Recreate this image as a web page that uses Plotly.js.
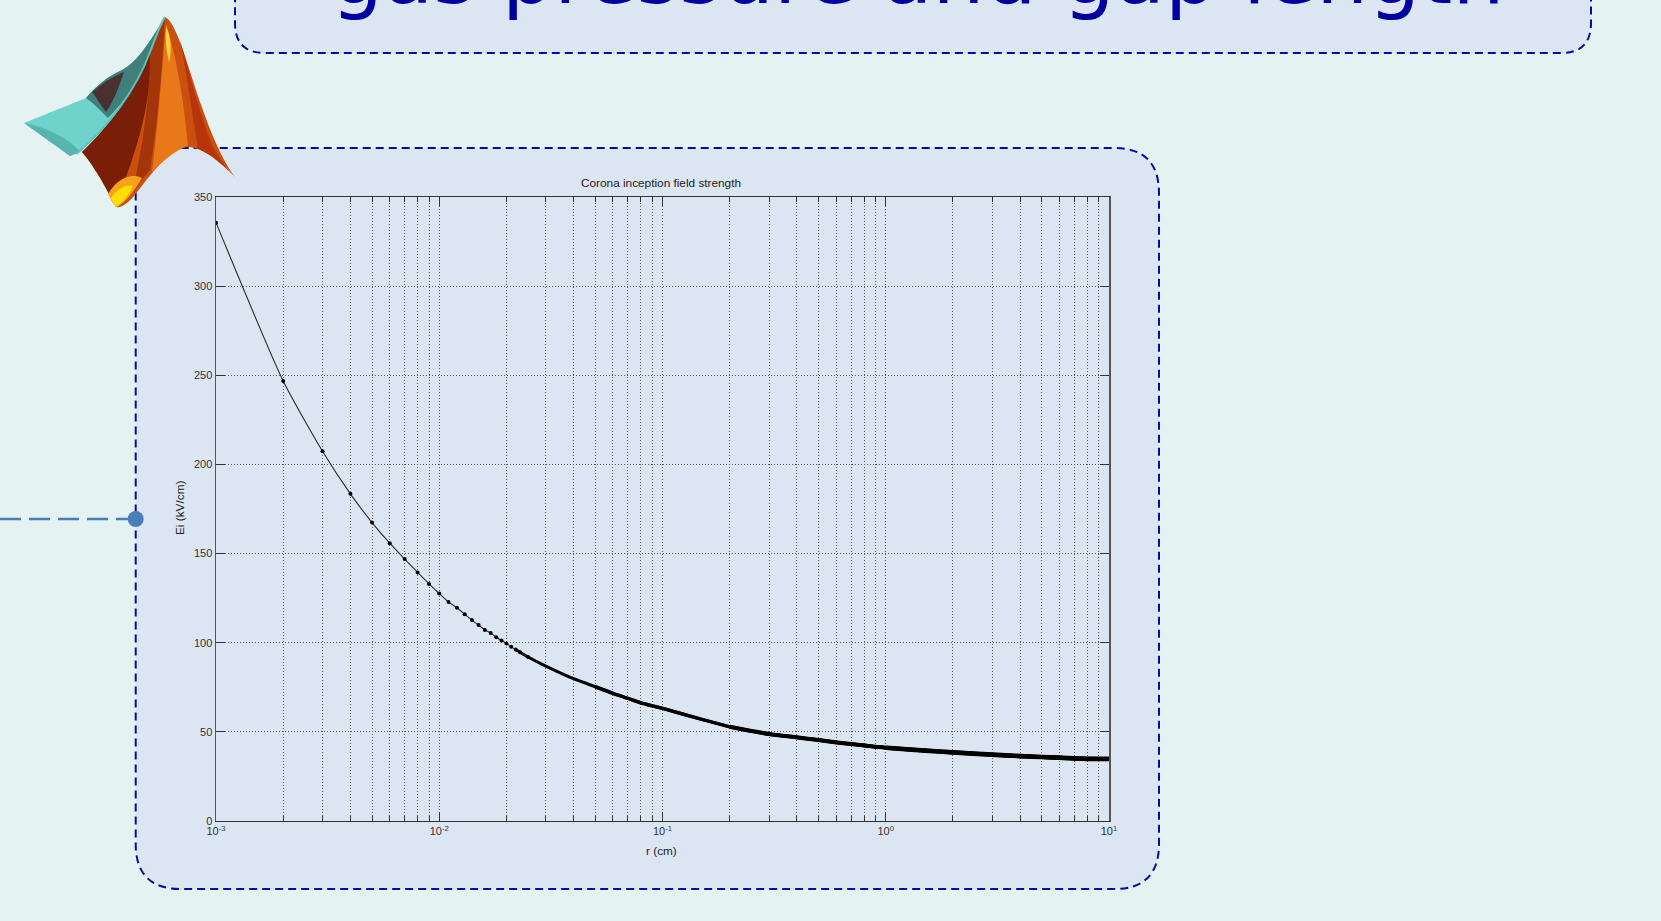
<!DOCTYPE html>
<html><head><meta charset="utf-8">
<script src="https://cdn.plot.ly/plotly-3.0.1.min.js"></script>
<style>html,body{margin:0;padding:0;background:#e4f2f2;overflow:hidden}</style>
</head><body><div id="chart" style="width:1661px;height:921px"></div>
<script>
// ---------------- data ----------------
const radiusCm = [0.001,0.002,0.003,0.004,0.005,0.006,0.007,0.008,0.009,0.010,
  0.011,0.012,0.013,0.014,0.015,0.016,0.017,0.018,0.019,0.020,0.021,0.022,0.023,0.025,
  0.03,0.04,0.05,0.06,0.07,0.08,0.09,0.1,0.15,0.2,0.3,0.4,0.5,0.6,0.7,0.8,0.9,
  1,1.5,2,3,4,5,6,7,8,9,10];
const fieldKVcm = [335.6,246.8,207.4,183.5,167.4,155.8,146.9,139.4,133.0,127.6,
  122.9,119.6,116.0,112.7,109.9,107.2,105.4,103.1,101.3,99.6,97.7,96.2,94.7,92.0,
  86.9,79.8,75.3,71.6,68.8,66.3,64.6,63.2,57.0,52.9,48.8,46.9,45.4,44.1,43.2,42.4,41.6,
  41.1,39.5,38.5,37.2,36.4,35.9,35.5,35.1,34.9,34.8,34.8];
const xTickVals = [0.001,0.01,0.1,1,10];
const xTickText = ['10<sup>-3</sup>','10<sup>-2</sup>','10<sup>-1</sup>','10<sup>0</sup>','10<sup>1</sup>'];
const yTickVals = [0,50,100,150,200,250,300,350];
const chartTitle = 'Corona inception field strength';
const xTitle = 'r (cm)';
const yTitle = 'Ei (kV/cm)';
const slideHeading = 'gas pressure and gap length';

// ---------------- helpers ----------------
const W = 1661, H = 921;
const px = x => x / W, py = y => 1 - y / H;
function P(segs){
  return segs.map(s => {
    const c = s[0]; const n = s.slice(1);
    return c + n.map((v,i) => (i % 2 === 0 ? px(v) : py(v)).toFixed(5)).join(',');
  }).join(' ');
}
function rrect(x0,y0,x1,y1,r){
  return P([['M',x0+r,y0],['L',x1-r,y0],['Q',x1,y0,x1,y0+r],['L',x1,y1-r],['Q',x1,y1,x1-r,y1],
    ['L',x0+r,y1],['Q',x0,y1,x0,y1-r],['L',x0,y0+r],['Q',x0,y0,x0+r,y0],['Z']]);
}
const minorVals = [];
xTickVals.slice(0,-1).forEach(d => { for (let k=2;k<=9;k++) minorVals.push(+(k*d).toPrecision(3)); });

// the curve: dots where they are resolved, then an increasingly thick line where dots pile up
const iDotEnd = radiusCm.findIndex(r => r >= 0.025);
const thickSteps = [[0.022, 3.0], [0.05, 3.5], [0.2, 4.1], [1, 4.7]];
const traces = thickSteps.map(([r0, w]) => {
  const i0 = radiusCm.findIndex(r => r >= r0);
  return {x: radiusCm.slice(i0), y: fieldKVcm.slice(i0), mode:'lines', type:'scatter',
    line:{color:'#000', width:w, shape:'spline', smoothing:0.6}, hoverinfo:'skip'};
});
traces.push({x: radiusCm.slice(0, iDotEnd+1), y: fieldKVcm.slice(0, iDotEnd+1), mode:'lines+markers', type:'scatter',
   line:{color:'#2a2a2a', width:1.1, shape:'spline', smoothing:0.6},
   marker:{color:'#000', size:4}});

const tickFont = {family:'Liberation Sans, Arial, sans-serif', size:11, color:'#333'};
const labelFont = {family:'Liberation Sans, Arial, sans-serif', size:11.8, color:'#222'};
const gridDash = '1px,2px';

const shapes = [
  // heading box (top, cut by page)
  {type:'path', xref:'paper', yref:'paper', layer:'below', path: rrect(235,-200,1591,53,30),
   fillcolor:'#dce6f2', line:{color:'#0a0aa0', width:2, dash:'8px,5px'}},
  // chart panel
  {type:'path', xref:'paper', yref:'paper', layer:'below', path: rrect(135.7,148,1159,889,45),
   fillcolor:'#dce6f2', line:{color:'#0a0aa0', width:2, dash:'8px,5px'}},
  // connector line and dot
  {type:'line', xref:'paper', yref:'paper', layer:'above', x0:px(0), x1:px(128), y0:py(519), y1:py(519),
   line:{color:'#4a7ebb', width:2.5, dash:'21px,8px'}},
  {type:'circle', xref:'paper', yref:'paper', layer:'above', x0:px(127.7), x1:px(143.7), y0:py(511), y1:py(527),
   fillcolor:'#4a7ebb', line:{width:0}},
  // ---- MATLAB-style logo (decoration) ----
  {type:'path', xref:'paper', yref:'paper', layer:'above', line:{width:0}, fillcolor:'#6fd2cb',
   path: P([['M',24,123],['L',86,98],['C',96,86,108,76,122,70],['C',138,62,152,38,165,17],
            ['L',150,55],['C',132,95,108,128,80,152],['L',70,156],['Z']])},
  {type:'path', xref:'paper', yref:'paper', layer:'above', line:{width:0}, fillcolor:'#57b5af',
   path: P([['M',24,123],['L',70,156],['L',80,152],['C',70,140,50,128,24,123],['Z']])},
  {type:'path', xref:'paper', yref:'paper', layer:'above', line:{width:0}, fillcolor:'#3f7f7c',
   path: P([['M',86,98],['C',96,86,108,76,122,70],['C',138,62,152,38,165,17],
            ['L',150,55],['C',138,82,124,102,108,118],['C',100,110,93,103,86,98],['Z']])},
  {type:'path', xref:'paper', yref:'paper', layer:'above', line:{width:0}, fillcolor:'#4a3030',
   path: P([['M',92,92],['C',104,82,114,76,124,72],['C',118,90,112,104,106,112],['C',100,104,96,97,92,92],['Z']])},
  {type:'path', xref:'paper', yref:'paper', layer:'above', line:{width:0}, fillcolor:'#c9500e',
   path: P([['M',165,17],['C',176,22,186,60,200,102],['C',212,136,222,160,235,177],
            ['C',226,166,210,150,190,147],['C',170,146,150,176,134,196],['C',127,204,121,208,116,207],
            ['C',108,192,96,168,82,152],['C',108,128,136,90,150,52],['C',155,37,160,23,165,17],['Z']])},
  {type:'path', xref:'paper', yref:'paper', layer:'above', line:{width:0}, fillcolor:'#7a1e08',
   path: P([['M',82,152],['C',108,128,136,90,150,52],['C',152,80,146,120,132,160],
            ['C',126,178,120,192,116,207],['C',108,192,96,168,82,152],['Z']])},
  {type:'path', xref:'paper', yref:'paper', layer:'above', line:{width:0}, fillcolor:'#a3350a',
   path: P([['M',150,52],['C',156,40,160,28,165,20],['C',162,70,158,120,150,170],
            ['C',142,178,138,186,132,194],['C',142,150,150,100,150,52],['Z']])},
  {type:'path', xref:'paper', yref:'paper', layer:'above', line:{width:0}, fillcolor:'#e8781a',
   path: P([['M',166,24],['C',176,55,184,100,188,146],['C',176,150,164,160,152,172],
            ['C',158,125,162,70,166,24],['Z']])},
  {type:'path', xref:'paper', yref:'paper', layer:'above', line:{width:0}, fillcolor:'#b8340a',
   path: P([['M',180,40],['C',190,75,200,115,212,145],['C',220,160,228,170,235,177],
            ['C',224,166,212,155,198,149],['C',192,110,186,70,180,40],['Z']])},
  {type:'path', xref:'paper', yref:'paper', layer:'above', line:{width:0}, fillcolor:'#ffd23a',
   path: P([['M',166,26],['C',171,36,172,52,169,62],['C',166,50,165,38,166,26],['Z']])},
  {type:'path', xref:'paper', yref:'paper', layer:'above', line:{width:0}, fillcolor:'#f7a21a',
   path: P([['M',108,194],['C',116,180,130,172,142,178],['C',134,192,124,204,116,207],['C',112,202,110,198,108,194],['Z']])},
  {type:'path', xref:'paper', yref:'paper', layer:'above', line:{width:0}, fillcolor:'#ffe000',
   path: P([['M',111,198],['C',117,189,126,184,133,186],['C',128,196,122,204,116,207],['C',114,204,112,201,111,198],['Z']])},
  {type:'path', xref:'paper', yref:'paper', layer:'above', line:{color:'#5cc2bb', width:2},
   path: P([['M',76,154],['C',108,128,136,90,150,52],['C',156,37,160,24,165,17]])}
];

const annotations = [
  {text: slideHeading, xref:'paper', yref:'paper', x:px(918), y:py(24), xanchor:'center', yanchor:'bottom',
   showarrow:false, font:{family:'DejaVu Sans, Verdana, sans-serif', size:82, color:'#0000a0'}},
  {text: chartTitle, xref:'paper', yref:'paper', x:px(661), y:py(183), xanchor:'center', yanchor:'middle',
   showarrow:false, font:labelFont},
  {text: xTitle, xref:'paper', yref:'paper', x:px(661), y:py(851), xanchor:'center', yanchor:'middle',
   showarrow:false, font:labelFont},
  {text: yTitle, xref:'paper', yref:'paper', x:px(180), y:py(508), xanchor:'center', yanchor:'middle',
   textangle:-90, showarrow:false, font:labelFont}
];

const layout = {
  width:W, height:H, margin:{l:0,r:0,t:0,b:0,pad:0},
  paper_bgcolor:'#e4f2f2', plot_bgcolor:'rgba(0,0,0,0)', showlegend:false,
  xaxis:{type:'log', domain:[px(216), px(1109)], range:[-3,1], anchor:'y',
    tickmode:'array', tickvals:xTickVals, ticktext:xTickText, tickfont:tickFont,
    ticks:'inside', ticklen:9, tickwidth:1, tickcolor:'#333',
    showline:true, linecolor:'#333', linewidth:1, mirror:'allticks',
    showgrid:true, gridcolor:'#5a5a5a', griddash:gridDash, gridwidth:1, zeroline:false,
    minor:{tickmode:'array', tickvals:minorVals, ticks:'inside', ticklen:5, tickcolor:'#333', tickwidth:1,
      showgrid:true, gridcolor:'#5a5a5a', griddash:gridDash, gridwidth:1},
    fixedrange:true},
  yaxis:{domain:[py(821), py(197)], range:[0,350], anchor:'x',
    tickmode:'array', tickvals:yTickVals, tickfont:tickFont,
    ticks:'inside', ticklen:9, tickwidth:1, tickcolor:'#333',
    showline:true, linecolor:'#555', linewidth:1.5, mirror:'allticks',
    showgrid:true, gridcolor:'#5a5a5a', griddash:gridDash, gridwidth:1, zeroline:false,
    fixedrange:true},
  shapes: shapes,
  annotations: annotations
};

Plotly.newPlot('chart', traces, layout, {displayModeBar:false, staticPlot:true});
</script></body></html>
